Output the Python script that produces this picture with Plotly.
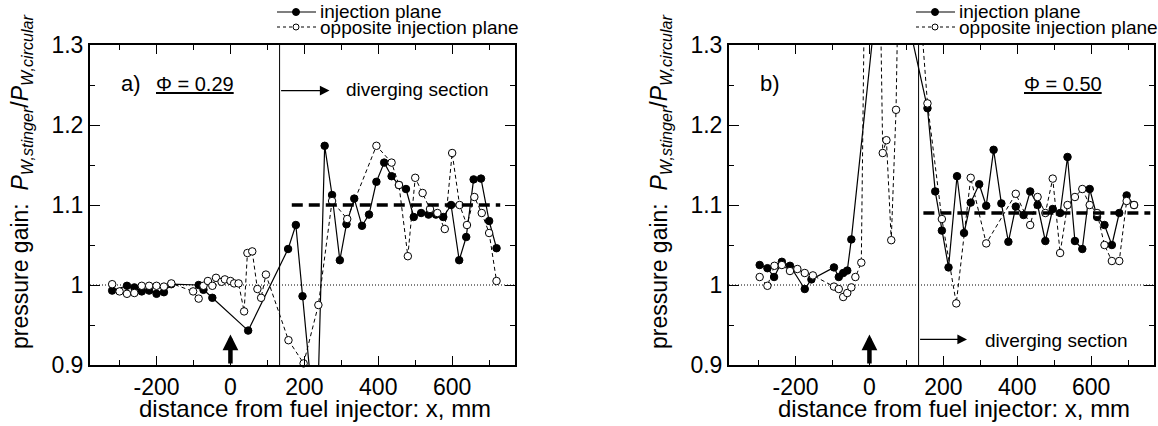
import plotly.graph_objects as go

W, H = 1158, 426

# ---- panel a: equivalence ratio 0.29 ----
a_inj_x = [-320, -280, -260, -240, -220, -200, -180, -160, -86, -73, -49, 48, 156, 177, 195, 213, 236,
           255, 275, 296, 314, 335, 356, 375, 395, 416, 436, 456, 475, 496, 516, 536, 556, 576, 597,
           619, 638, 658, 678, 700, 720]
a_inj_y = [0.993, 0.999, 0.997, 0.992, 0.993, 0.989, 0.991, 1.001, 1.000, 0.994, 0.984, 0.943, 1.045,
           1.075, 0.986, 0.899, 0.850, 1.174, 1.1125, 1.031, 1.076, 1.108, 1.074, 1.088, 1.129, 1.153,
           1.136, 1.125, 1.120, 1.085, 1.090, 1.088, 1.088, 1.085, 1.100, 1.031, 1.060, 1.132, 1.133,
           1.080, 1.046]
a_opp_x = [-320, -300, -280, -260, -240, -220, -200, -180, -160, -101, -86, -73, -61, -49, -39, -24,
           -15, 0, 10, 22, 37, 46, 59, 73, 83, 96, 157, 198, 238, 275, 316, 395, 436, 456, 480, 500,
           520, 540, 560, 580, 600, 620, 640, 660, 680, 700, 720]
a_opp_y = [1.001, 0.992, 0.989, 0.990, 0.999, 0.999, 0.999, 0.998, 1.002, 0.992, 0.983, 0.999, 1.005,
           0.999, 1.009, 1.004, 1.007, 1.005, 1.002, 1.002, 0.967, 1.040, 1.042, 0.995, 0.984, 1.013,
           0.931, 0.902, 0.975, 1.105, 1.0825, 1.174, 1.153, 1.125, 1.036, 1.134, 1.115, 1.095, 1.090,
           1.070, 1.165, 1.100, 1.075, 1.110, 1.090, 1.065, 1.005]
a_mean = 1.10
a_label = "Φ = 0.29"

# ---- panel b: equivalence ratio 0.50 ----
b_inj_x = [-297, -276, -258, -237, -215, -175, -157, -96, -83, -71, -60, -49, 43, 157, 178, 196, 214,
           237, 256, 274, 297, 316, 336, 357, 376, 396, 417, 435, 455, 476, 496, 516, 536, 556, 576,
           596, 616, 636, 656, 676, 696, 716]
b_inj_y = [1.025, 1.021, 1.010, 1.029, 1.024, 0.995, 1.007, 1.022, 1.010, 1.015, 1.018, 1.057, 1.460,
           1.221, 1.117, 1.068, 1.022, 1.136, 1.065, 1.103, 1.126, 1.099, 1.169, 1.102, 1.054, 1.098,
           1.0875, 1.117, 1.100, 1.055, 1.095, 1.090, 1.160, 1.055, 1.045, 1.120, 1.085, 1.075, 1.050,
           1.090, 1.112, 1.100]
b_opp_x = [-297, -276, -257, -237, -215, -195, -175, -153, -96, -83, -71, -60, -49, -38, -22, 5, 36,
           46, 59, 72, 88, 157, 196, 235, 274, 316, 396, 435, 455, 476, 496, 516, 536, 556, 576, 596,
           616, 636, 656, 676, 696, 716]
b_opp_y = [1.010, 0.999, 1.024, 1.025, 1.0175, 1.020, 1.015, 1.012, 0.998, 0.995, 0.985, 0.990, 0.997,
           1.010, 1.028, 2.100, 1.165, 1.181, 1.056, 1.219, 1.650, 1.227, 1.0825, 0.977, 1.134, 1.052,
           1.114, 1.075, 1.110, 1.090, 1.133, 1.040, 1.100, 1.110, 1.120, 1.100, 1.090, 1.050, 1.030,
           1.030, 1.105, 1.100]
b_mean = 1.09
b_label = "Φ = 0.50"

# shared axis settings
X_RANGE = [-380, 770]
Y_RANGE = [0.9, 1.3]
x_ticks = [-200, 0, 200, 400, 600]
x_ticktext = ["-200", "0", "200", "400", "600"]
x_minor = [-300, -100, 100, 300, 500, 700]
y_ticks = [0.9, 1.0, 1.1, 1.2, 1.3]
y_ticktext = ["0.9", "1", "1.1", "1.2", "1.3"]
y_minor = [0.95, 1.05, 1.15, 1.25]
DIVERGE_X = 133
INJECTOR_X = 0

FONT = "Liberation Sans, Arial, Helvetica, sans-serif"


def px(x):
    return x / W


def py(y):
    return 1 - y / H


def marker_sizes(vals, s):
    # points beyond the vertical range keep their line segment but get no marker
    return [s if Y_RANGE[0] - 1e-9 <= v <= Y_RANGE[1] + 1e-9 else 0 for v in vals]


fig = go.Figure()

panels = [
    dict(xa="x", ya="y", left=90, right=515,
         inj=(a_inj_x, a_inj_y), opp=(a_opp_x, a_opp_y), mean=a_mean, mean_x=(166, 730),
         label=a_label),
    dict(xa="x2", ya="y2", left=729, right=1154,
         inj=(b_inj_x, b_inj_y), opp=(b_opp_x, b_opp_y), mean=b_mean, mean_x=(146, 760),
         label=b_label),
]

MS = 7.5
for p in panels:
    fig.add_trace(go.Scatter(
        x=p["inj"][0], y=p["inj"][1], xaxis=p["xa"], yaxis=p["ya"],
        mode="lines+markers", cliponaxis=False, showlegend=False,
        line=dict(color="black", width=1.2),
        marker=dict(symbol="circle", size=marker_sizes(p["inj"][1], MS), color="black", opacity=1,
                    line=dict(color="black", width=1)),
        name="injection plane"))
    fig.add_trace(go.Scatter(
        x=p["opp"][0], y=p["opp"][1], xaxis=p["xa"], yaxis=p["ya"],
        mode="lines+markers", cliponaxis=False, showlegend=False,
        line=dict(color="black", width=1, dash="4px,3px"),
        marker=dict(symbol="circle", size=marker_sizes(p["opp"][1], MS), color="white", opacity=1,
                    line=dict(color="black", width=1)),
        name="opposite injection plane"))

axis_common = dict(showgrid=False, zeroline=False, showline=True, linecolor="black", linewidth=2,
                   mirror="ticks", ticks="inside", tickcolor="black", tickwidth=1.2,
                   tickfont=dict(family=FONT, size=23, color="black"))

layout = dict(
    width=W, height=H, margin=dict(l=0, r=0, t=0, b=0, autoexpand=False),
    paper_bgcolor="white", plot_bgcolor="white", showlegend=False,
    font=dict(family=FONT, color="black"),
)
for i, p in enumerate(panels):
    sx = "" if i == 0 else "2"
    layout["xaxis" + sx] = dict(
        axis_common, domain=[px(p["left"]), px(p["right"])], range=X_RANGE,
        tickvals=x_ticks, ticktext=x_ticktext, ticklen=9, anchor="y" + sx,
        minor=dict(tickvals=x_minor, ticklen=5, ticks="inside", tickcolor="black", tickwidth=1.2))
    layout["yaxis" + sx] = dict(
        axis_common, domain=[py(365), py(45)], range=Y_RANGE,
        tickvals=y_ticks, ticktext=y_ticktext, ticklen=10, anchor="x" + sx,
        minor=dict(tickvals=y_minor, ticklen=5, ticks="inside", tickcolor="black", tickwidth=1.2))
fig.update_layout(**layout)

shapes = []
annotations = []
for i, p in enumerate(panels):
    xr, yr = p["xa"], p["ya"]
    # reference level 1.0
    shapes.append(dict(type="line", xref=xr + " domain", yref=yr, x0=0, x1=1, y0=1.0, y1=1.0,
                       line=dict(color="black", width=1, dash="1px,2px"), layer="below"))
    # start of diverging section
    shapes.append(dict(type="line", xref=xr, yref=yr + " domain", x0=DIVERGE_X, x1=DIVERGE_X,
                       y0=0, y1=1, line=dict(color="black", width=1)))
    # mean pressure gain downstream
    shapes.append(dict(type="line", xref=xr, yref=yr, x0=p["mean_x"][0], x1=p["mean_x"][1],
                       y0=p["mean"], y1=p["mean"], line=dict(color="black", width=3.5, dash="11px,6px")))
    # injector location arrow
    annotations.append(dict(xref=xr, yref=yr, axref=xr, ayref=yr, x=INJECTOR_X, y=0.938,
                            ax=INJECTOR_X, ay=0.9, text="", showarrow=True, arrowhead=2,
                            arrowwidth=4.5, arrowsize=0.7, arrowcolor="black", standoff=0,
                            startstandoff=0))

    # legend block above each panel
    r = p["right"]
    lx0, lx1, lxm = r - 238, r - 199, r - 219
    tx = r - 197
    for row_y, filled, txt in [(12, True, "injection plane"), (27, False, "opposite injection plane")]:
        shapes.append(dict(type="line", xref="paper", yref="paper", x0=px(lx0), x1=px(lx1),
                           y0=py(row_y), y1=py(row_y),
                           line=dict(color="black", width=1.2 if filled else 1,
                                     dash="solid" if filled else "3px,3px")))
        rad = 3.5 if filled else 3
        shapes.append(dict(type="circle", xref="paper", yref="paper",
                           x0=px(lxm - rad), x1=px(lxm + rad), y0=py(row_y + rad), y1=py(row_y - rad),
                           fillcolor="black" if filled else "white", line=dict(color="black", width=1)))
        annotations.append(dict(xref="paper", yref="paper", x=px(tx), y=py(row_y), text=txt,
                                showarrow=False, xanchor="left", yanchor="middle",
                                font=dict(family=FONT, size=19, color="black")))

    # axis titles
    annotations.append(dict(xref="paper", yref="paper", x=px((p["left"] + p["right"]) / 2 + 12),
                            y=py(408), text="distance from fuel injector: x, mm", showarrow=False,
                            xanchor="center", yanchor="middle",
                            font=dict(family=FONT, size=24, color="black")))
    annotations.append(dict(xref="paper", yref="paper", x=px(p["left"] - 68), y=py(182),
                            text="pressure gain:  <i>P</i><sub><i>W,stinger</i></sub>/<i>P</i><sub><i>W,circular</i></sub>",
                            showarrow=False, textangle=-90, xanchor="center", yanchor="middle",
                            font=dict(family=FONT, size=23, color="black")))

# panel labels and diverging-section markers
annotations += [
    dict(xref="paper", yref="paper", x=px(119), y=py(84), text="a)", showarrow=False,
         xanchor="left", yanchor="middle", font=dict(family=FONT, size=22, color="black")),
    dict(xref="paper", yref="paper", x=px(154), y=py(84), text="<u>" + a_label + "</u>",
         showarrow=False, xanchor="left", yanchor="middle", font=dict(family=FONT, size=20, color="black")),
    dict(xref="paper", yref="paper", x=px(758), y=py(84), text="b)", showarrow=False,
         xanchor="left", yanchor="middle", font=dict(family=FONT, size=22, color="black")),
    dict(xref="paper", yref="paper", x=px(1022), y=py(84), text="<u>" + b_label + "</u>",
         showarrow=False, xanchor="left", yanchor="middle", font=dict(family=FONT, size=20, color="black")),
    # panel a: arrow + text near the top
    dict(xref="x", yref="y", axref="x", ayref="y", x=268, y=1.243, ax=DIVERGE_X, ay=1.243, text="",
         showarrow=True, arrowhead=2, arrowwidth=1.2, arrowsize=1.6, arrowcolor="black",
         standoff=0, startstandoff=0),
    dict(xref="paper", yref="paper", x=px(344), y=py(90), text="diverging section", showarrow=False,
         xanchor="left", yanchor="middle", font=dict(family=FONT, size=19, color="black")),
    # panel b: arrow + text near the bottom
    dict(xref="x2", yref="y2", axref="x2", ayref="y2", x=264, y=0.932, ax=DIVERGE_X, ay=0.932, text="",
         showarrow=True, arrowhead=2, arrowwidth=1.2, arrowsize=1.6, arrowcolor="black",
         standoff=0, startstandoff=0),
    dict(xref="paper", yref="paper", x=px(983), y=py(340), text="diverging section", showarrow=False,
         xanchor="left", yanchor="middle", font=dict(family=FONT, size=19, color="black")),
]

fig.update_layout(shapes=shapes, annotations=annotations)
fig.write_html("out.html")
